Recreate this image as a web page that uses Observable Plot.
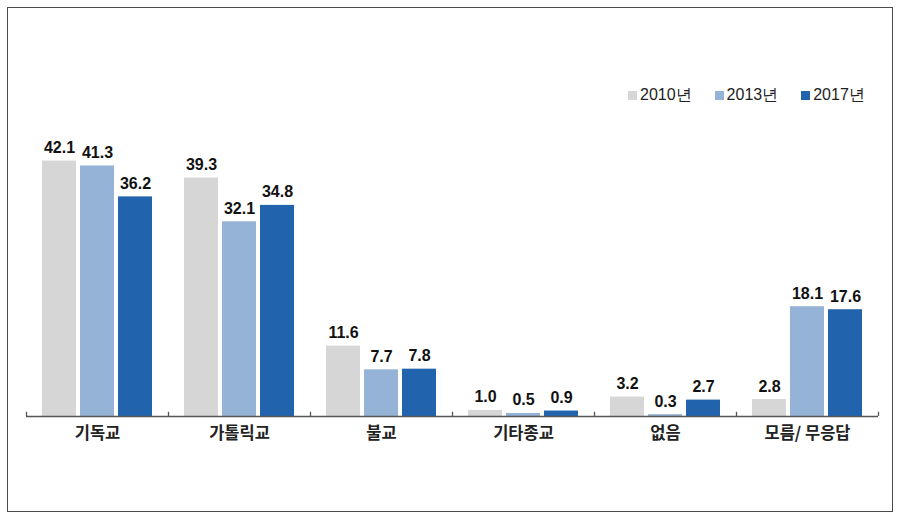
<!DOCTYPE html>
<html><head><meta charset="utf-8">
<script src="https://cdn.jsdelivr.net/npm/d3@7"></script>
<script src="https://cdn.jsdelivr.net/npm/@observablehq/plot@0.6"></script>
<style>
body{margin:0;background:#fff;}
#wrap{position:relative;width:900px;height:518px;overflow:hidden;}
#border{position:absolute;left:7px;top:7px;width:886px;height:505px;border:1px solid #4a4a4a;box-sizing:border-box;pointer-events:none;}
#legend{position:absolute;top:85px;left:628px;display:flex;gap:23px;font:16px "Liberation Sans",Arial,sans-serif;color:#222;}
#legend .item{display:flex;align-items:center;}
#legend .sw{width:9px;height:9px;margin-right:3px;}
svg{display:block;}
</style></head>
<body>
<div id="wrap"><div id="chart"></div><div id="legend"></div><div id="border"></div></div>
<script>
const categories = ["기독교","가톨릭교","불교","기타종교","없음","모름/ 무응답"];
const years = ["2010년","2013년","2017년"];
const v2010 = [42.1,39.3,11.6,1.0,3.2,2.8];
const v2013 = [41.3,32.1,7.7,0.5,0.3,18.1];
const v2017 = [36.2,34.8,7.8,0.9,2.7,17.6];
const colors = ["#d6d6d6","#95b3d7","#2263ad"];

const series = [v2010, v2013, v2017];
const data = categories.flatMap((c,i)=>years.map((y,j)=>({category:c, year:y, value:series[j][i]})));

const chart = Plot.plot({
  width:900, height:518,
  marginTop:143, marginBottom:102, marginLeft:25, marginRight:22,
  fx:{domain:categories, padding:0, label:null},
  x:{domain:years, paddingInner:0.105, paddingOuter:0.42, axis:null},
  y:{domain:[0,45], axis:null},
  color:{domain:years, range:colors},
  marks:[
    Plot.barY(data,{fx:"category", x:"year", y:"value", fill:"year"}),
    Plot.text(data,{fx:"category", x:"year", y:"value", text:d=>d.value.toFixed(1),
      lineAnchor:"bottom", dy:-8, fontWeight:"bold", fontSize:16,
      fontFamily:"'Liberation Sans', Arial, sans-serif", fill:"#111"}),
    Plot.ruleY([0],{stroke:"#555", strokeWidth:1.3}),
    Plot.ruleX(categories,{fx:d=>d, x:()=>years[0], y1:0, y2:0.7, dx:-33, stroke:"#555", strokeWidth:1.3}),
    Plot.ruleX([categories[categories.length-1]],{fx:d=>d, x:()=>years[years.length-1], y1:0, y2:0.7, dx:33, stroke:"#555", strokeWidth:1.3}),
    Plot.axisFx({anchor:"bottom", tickSize:0, tickPadding:11, fontSize:16.5, fontWeight:"bold",
      fontFamily:"'Noto Sans CJK KR', sans-serif", fill:"#222", label:null})
  ]
});
document.getElementById("chart").appendChild(chart);

const legend = document.getElementById("legend");
years.forEach((y,j)=>{
  const it = document.createElement("div"); it.className="item";
  const sw = document.createElement("span"); sw.className="sw"; sw.style.background=colors[j];
  const tx = document.createElement("span"); tx.textContent=y;
  it.appendChild(sw); it.appendChild(tx); legend.appendChild(it);
});
</script>
</body></html>
